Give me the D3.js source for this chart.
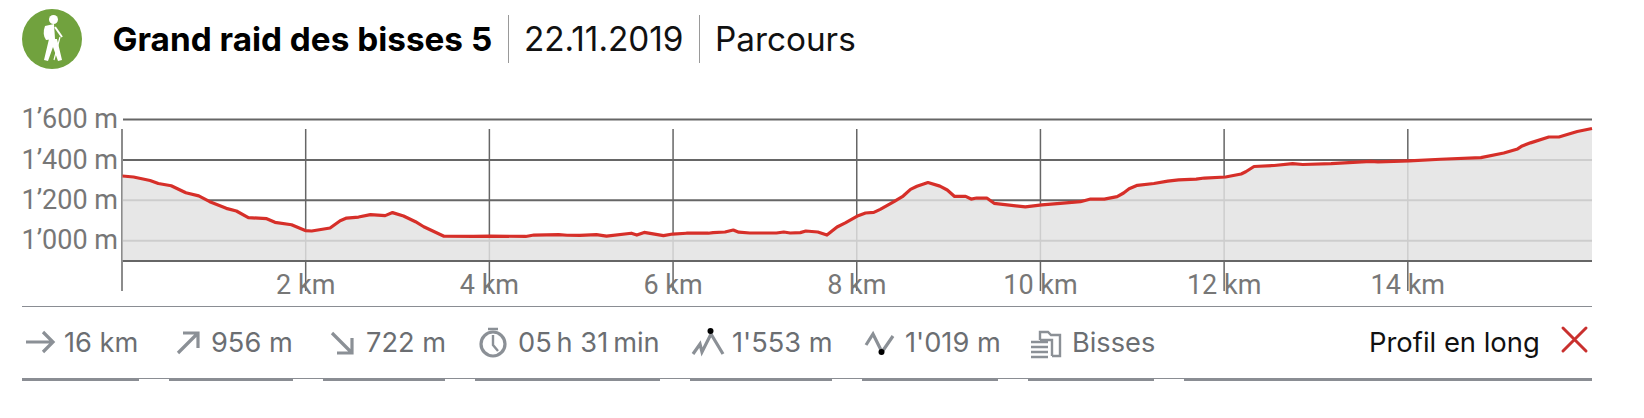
<!DOCTYPE html>
<html lang="fr">
<head>
    <meta charset="UTF-8">
    <title>Grand raid des bisses 5</title>
    <script src="https://d3js.org/d3.v7.min.js" charset="utf-8"></script>
    <style>
        html, body { margin: 0; padding: 0; background: #fff; overflow: hidden; }
        svg { display: block; }
        text { font-family: Inter, sans-serif; }
        .axis text { font-family: Roboto, sans-serif; font-size: 27px; fill: #777; }
    </style>
</head>
<body>
    <div id="chart"></div>
    <script>
    // distance along the route (km)
    var kmValues = [0, .12, .3, .39, .53, .69, .83, .95, 1.13, 1.24, 1.37, 1.57, 1.66, 1.84, 1.99, 2.06, 2.26, 2.37, 2.44, 2.57, 2.7, 2.86, 2.94, 3.06, 3.19, 3.28, 3.5,
        3.82, 4, 4.39, 4.48, 4.75, 4.84, 4.98, 5.16, 5.27, 5.54, 5.6, 5.68, 5.89, 5.99, 6.14, 6.38, 6.43, 6.56, 6.65, 6.71, 6.83, 7.12, 7.2, 7.27, 7.38, 7.44, 7.57, 7.67,
        7.78, 7.87, 8.01, 8.09, 8.18, 8.25, 8.4, 8.5, 8.58, 8.65, 8.77, 8.9, 8.98, 9.06, 9.18, 9.24, 9.3, 9.41, 9.49, 9.83, 10.01, 10.21, 10.43, 10.54, 10.69, 10.83, 10.9, 10.96,
        11.05, 11.23, 11.38, 11.5, 11.69, 11.78, 12.01, 12.18, 12.23, 12.32, 12.54, 12.74, 12.85, 13.16, 13.59, 13.67, 14.01, 14.35, 14.79, 15.04, 15.19, 15.24, 15.33, 15.53, 15.64, 15.73, 15.84, 16];
    // elevation at each of those points (m)
    var elevationValues = [1318, 1313, 1296, 1281, 1270, 1235, 1220, 1191, 1158, 1145, 1112, 1107, 1089, 1077, 1048, 1046, 1061, 1097, 1110, 1115, 1127, 1122, 1137, 1120, 1092, 1067, 1020,
        1019, 1021, 1019, 1026, 1028, 1025, 1024, 1028, 1021, 1035, 1026, 1039, 1023, 1031, 1035, 1035, 1038, 1041, 1051, 1040, 1036, 1036, 1041, 1036, 1038, 1046, 1041, 1026,
        1066, 1086, 1122, 1135, 1138, 1153, 1191, 1219, 1252, 1267, 1286, 1268, 1249, 1217, 1217, 1204, 1209, 1209, 1183, 1165, 1175, 1183, 1191, 1204, 1204, 1216, 1234, 1255,
        1272, 1281, 1293, 1299, 1303, 1308, 1313, 1328, 1339, 1365, 1370, 1379, 1375, 1379, 1390, 1388, 1393, 1401, 1409, 1432, 1452, 1467, 1482, 1511, 1511, 1523, 1538, 1553];

    var xTicks = [0, 2, 4, 6, 8, 10, 12, 14];
    var yTicks = [1000, 1200, 1400, 1600];
    var yTickLabels = ['1’000 m', '1’200 m', '1’400 m', '1’600 m'];
    var statLabels = ['16 km', '956 m', '722 m', '05\u2009h 31\u2009min', '1\'553 m', '1\'019 m', 'Bisses'];
    var statX = [64, 211, 366, 518, 732, 905, 1072];
    var tabGaps = [[139, 169], [293, 323], [445, 475], [660, 690], [832, 862], [998, 1028], [1154, 1184]];

    var svg = d3.select('#chart').append('svg').attr('width', 1644).attr('height', 418);

    var x_scale = d3.scaleLinear().domain([0, 16]).range([122.5, 1592]);
    var y_scale = d3.scaleLinear().domain([1000, 1600]).range([240.3, 119]);
    var plotBottom = 261;

    // horizontal grid lines
    var y_axis = d3.axisLeft(y_scale)
        .tickValues(yTicks)
        .tickSize(0)
        .tickPadding(5)
        .tickFormat((d, i) => yTickLabels[i]);
    var yG = svg.append('g').attr('class', 'axis').attr('transform', 'translate(123, 0)').call(y_axis);
    yG.select('.domain').remove();
    yG.selectAll('.tick line')
        .attr('x2', 1469)
        .attr('stroke', '#666')
        .attr('stroke-width', 2);

    // vertical km ticks go through the labels
    var x_axis = d3.axisBottom(x_scale)
        .tickValues(xTicks)
        .tickSize(0)
        .tickPadding(0)
        .tickFormat(d => d === 0 ? '' : d + ' km');
    var xG = svg.append('g').attr('class', 'axis').attr('transform', 'translate(-1, ' + plotBottom + ')').call(x_axis);
    xG.select('.domain').remove();
    xG.selectAll('.tick line')
        .attr('y1', 129 - plotBottom)
        .attr('y2', 291 - plotBottom)
        .attr('stroke', '#666')
        .attr('stroke-width', 1.5);
    xG.selectAll('.tick text').attr('y', 33).attr('dy', 0);

    svg.append('line')
        .attr('x1', 123).attr('x2', 1592)
        .attr('y1', plotBottom).attr('y2', plotBottom)
        .attr('stroke', '#666').attr('stroke-width', 2);

    var profile = kmValues.map((d, i) => [d, elevationValues[i]]);

    // area sits over the grid so the lines look pale beneath it
    var area = d3.area()
        .x(d => x_scale(d[0]))
        .y0(plotBottom - 1)
        .y1(d => y_scale(d[1]));
    svg.append('path')
        .datum(profile)
        .attr('d', area)
        .attr('fill', 'rgb(226,226,226)')
        .attr('fill-opacity', 0.83);

    var line = d3.line()
        .x(d => x_scale(d[0]))
        .y(d => y_scale(d[1]));
    svg.append('path')
        .datum(profile)
        .attr('d', line)
        .attr('fill', 'none')
        .attr('stroke', '#d62f29')
        .attr('stroke-width', 3.2)
        .attr('stroke-linejoin', 'round');

    // header
    svg.append('circle').attr('cx', 52).attr('cy', 39).attr('r', 30).attr('fill', '#71a23e');
    var hiker = svg.append('g').attr('fill', '#fff').attr('stroke', '#fff');
    hiker.append('circle').attr('cx', 53.5).attr('cy', 19.5).attr('r', 4.5).attr('stroke', 'none');
    hiker.append('path').attr('stroke', 'none')
        .attr('d', 'M45 26 L54 24 L55 39 L46 40 Q42 34 45 26 Z');
    hiker.append('path').attr('stroke', 'none')
        .attr('d', 'M49 39 L57 39 L62 60 L58 61 L53 47 L48 61 L44 60 Z');
    hiker.append('path').attr('fill', 'none').attr('stroke-width', 2).attr('d', 'M55 27 L62 37');
    hiker.append('path').attr('fill', 'none').attr('stroke-width', 1.2).attr('d', 'M60 37 L54 60');

    svg.append('text').attr('x', 112.5).attr('y', 51).attr('font-size', 33.3).attr('font-weight', 700).attr('fill', '#000').text('Grand raid des bisses 5');
    svg.append('text').attr('x', 524).attr('y', 51).attr('font-size', 33.3).attr('fill', '#111').text('22.11.2019');
    svg.append('text').attr('x', 715).attr('y', 51).attr('font-size', 33.3).attr('fill', '#111').text('Parcours');
    [508.5, 699.5].forEach(function(sx) {
        svg.append('line').attr('x1', sx).attr('x2', sx).attr('y1', 15).attr('y2', 63).attr('stroke', '#999').attr('stroke-width', 1);
    });

    // separators
    svg.append('line').attr('x1', 22).attr('x2', 1592).attr('y1', 306.5).attr('y2', 306.5).attr('stroke', '#8a8d93').attr('stroke-width', 1);
    svg.append('line').attr('x1', 22).attr('x2', 1592).attr('y1', 378.5).attr('y2', 378.5).attr('stroke', '#8a8d93').attr('stroke-width', 1);
    var tabEdges = [22].concat(tabGaps.flat(), [1592]);
    d3.range(0, tabEdges.length, 2).forEach(function(i) {
        svg.append('rect')
            .attr('x', tabEdges[i]).attr('width', tabEdges[i + 1] - tabEdges[i])
            .attr('y', 378).attr('height', 3)
            .attr('fill', '#8a8d93');
    });

    // stats row
    svg.selectAll('.stat')
        .data(statLabels)
        .enter()
        .append('text')
        .attr('class', 'stat')
        .attr('x', (d, i) => statX[i])
        .attr('y', 352)
        .attr('font-size', 27.2)
        .attr('fill', '#6b6e72')
        .text(d => d);

    var icons = svg.append('g').attr('fill', 'none').attr('stroke', '#8b9096').attr('stroke-width', 3.2);
    icons.append('path').attr('d', 'M26 342 H53 M43 332 L53 342 L43 352');
    icons.append('path').attr('d', 'M178 353 L198 333 M183 333 H198 V348');
    icons.append('path').attr('d', 'M332 333 L352 353 M337 353 H352 V338');
    icons.append('circle').attr('cx', 493).attr('cy', 344).attr('r', 12);
    icons.append('path').attr('stroke-width', 2.4).attr('d', 'M493 335 V345 L498 351 M488 329 H498');
    icons.append('path').attr('d', 'M693 354 L700 344 L702 352 L711 334 L723 354');
    icons.append('path').attr('d', 'M866 345 L873 334 L882 352 L893 336');
    icons.append('path').attr('stroke-width', 2.4).attr('d', 'M1040 340 V332 H1048 L1051 335 H1060 V356 H1052 M1040 340 H1052 V356');
    icons.append('path').attr('stroke-width', 2.6).attr('d', 'M1031 342 H1048 M1031 347 H1048 M1031 352 H1048 M1031 357 H1048');
    svg.append('circle').attr('cx', 710.5).attr('cy', 331).attr('r', 3).attr('fill', '#000');
    svg.append('circle').attr('cx', 881.5).attr('cy', 352).attr('r', 3).attr('fill', '#000');

    svg.append('text').attr('x', 1369).attr('y', 352).attr('font-size', 27.4).attr('fill', '#111').text('Profil en long');
    svg.append('path').attr('d', 'M1563 328 L1586 351 M1586 328 L1563 351')
        .attr('fill', 'none').attr('stroke', '#c9302e').attr('stroke-width', 3).attr('stroke-linecap', 'round');
    </script>
</body>
</html>
